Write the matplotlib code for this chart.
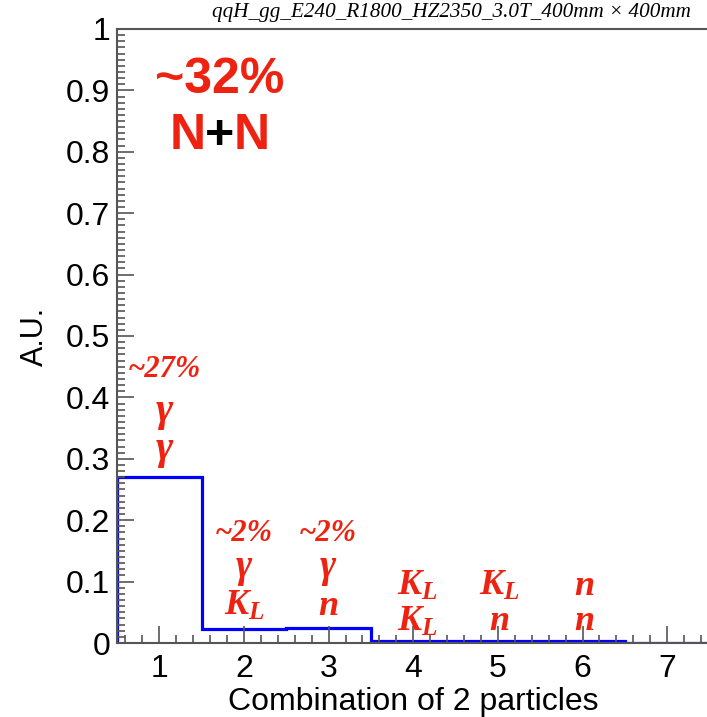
import matplotlib.pyplot as plt
from matplotlib.ticker import MultipleLocator
import numpy as np

# bin contents (fraction of events per particle pair)
combos = [1, 2, 3, 4, 5, 6, 7]
fractions = [0.27, 0.023, 0.025, 0.003, 0.003, 0.004, 0.0005]

# labels above the bins: (x, y, text, size)
pct_labels = [(1.06, 0.445, "~27%"), (2.0, 0.178, "~2%"), (2.99, 0.178, "~2%")]
sym_labels = [
    (1.06, 0.377, r"$\gamma$", 30), (1.06, 0.314, r"$\gamma$", 30),
    (2.0, 0.119, r"$\gamma$", 28), (2.0, 0.061, r"$K_L$", 26),
    (2.99, 0.119, r"$\gamma$", 28), (2.99, 0.061, r"$n$", 26),
    (4.05, 0.093, r"$K_L$", 26), (4.05, 0.036, r"$K_L$", 26),
    (5.02, 0.093, r"$K_L$", 26), (5.02, 0.036, r"$n$", 26),
    (6.02, 0.093, r"$n$", 26), (6.02, 0.036, r"$n$", 26),
]

plt.rcParams['font.family'] = ['Liberation Sans', 'DejaVu Sans']
plt.rcParams['mathtext.fontset'] = 'custom'
plt.rcParams['mathtext.it'] = 'Liberation Serif:italic:bold'
plt.rcParams['mathtext.rm'] = 'Liberation Serif:bold'
plt.rcParams['mathtext.bf'] = 'Liberation Serif:italic:bold'

red = '#ee2211'

fig = plt.figure(figsize=(7.07, 7.17), dpi=100)
ax = fig.add_axes([0.1655, 0.1032, 0.838, 0.8564])

edges = np.append(np.array(combos) - 0.5, combos[-1] + 0.5)
ax.stairs(fractions, edges, color='#0000ff', lw=2.3, baseline=0)

ax.set_xlim(0.5, 7.5)
ax.set_ylim(0, 1)
ax.xaxis.set_major_locator(MultipleLocator(1))
ax.xaxis.set_minor_locator(MultipleLocator(0.2))
ax.yaxis.set_minor_locator(MultipleLocator(0.01))
ax.set_yticks(np.arange(0, 1.01, 0.1))
ax.set_yticklabels(['0'] + [f"{v:.1f}" for v in np.arange(0.1, 0.95, 0.1)] + ['1'])
ax.tick_params(which='both', direction='in', colors='#555555', labelcolor='black', labelsize=23)
ax.tick_params(which='major', length=12, width=1.2)
ax.tick_params(which='minor', length=6, width=1.2)
ax.tick_params(axis='x', pad=8)
ax.tick_params(axis='y', pad=5)
for s in ax.spines.values():
    s.set_color('#555555')
    s.set_linewidth(1.5)

ax.set_xlabel("Combination of 2 particles", fontsize=23, labelpad=2)
ax.set_ylabel("A.U.", fontsize=22, labelpad=11)

fig.text(0.977, 0.982, "qqH_gg_E240_R1800_HZ2350_3.0T_400mm × 400mm",
         ha='right', va='center', fontsize=15.2, family='Liberation Serif', style='italic')

# big headline for the N+N fraction
ax.text(1.71, 0.917, "~32%", color=red, fontsize=36, fontweight='bold', ha='center', va='center')
ax.annotate("+", (1.71, 0.825), color='black', fontsize=36, fontweight='bold', ha='center', va='center')
ax.annotate("N", (1.71, 0.825), xytext=(-10, 0), textcoords='offset points', color=red,
            fontsize=36, fontweight='bold', ha='right', va='center')
ax.annotate("N", (1.71, 0.825), xytext=(10, 0), textcoords='offset points', color=red,
            fontsize=36, fontweight='bold', ha='left', va='center')

for x, y, txt in pct_labels:
    ax.text(x, y, txt, color=red, fontsize=22, family='Liberation Serif',
            style='italic', fontweight='bold', ha='center', va='center')
for x, y, txt, size in sym_labels:
    ax.text(x, y, txt, color=red, fontsize=size, ha='center', va='center')

fig.savefig("out.png", dpi=100)
